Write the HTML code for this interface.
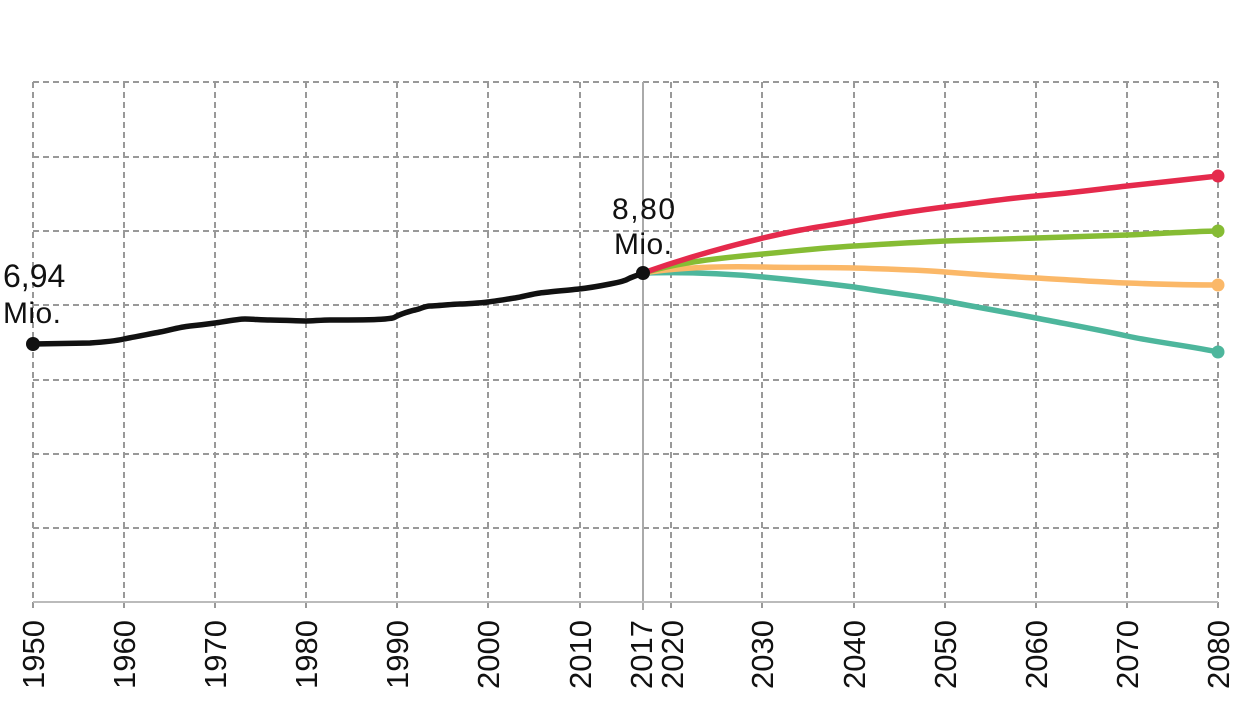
<!DOCTYPE html>
<html><head><meta charset="utf-8"><style>body{margin:0;background:#fff}svg{display:block}</style></head>
<body>
<svg width="1238" height="714" xmlns="http://www.w3.org/2000/svg" font-family="Liberation Sans, sans-serif">
<g stroke="#999" stroke-width="2" stroke-dasharray="6,4" fill="none">
<path d="M33 82H1218M33 157H1218M33 231H1218M33 305H1218M33 380H1218M33 454H1218M33 528H1218"/>
<path d="M33 82V610M124 82V610M215 82V610M306 82V610M397 82V610M488 82V610M580 82V610M671 82V610M762 82V610M854 82V610M945 82V610M1036 82V610M1127 82V610M1218 82V610"/>
</g>
<path d="M643 82V610" stroke="#aaa" stroke-width="2"/>
<path d="M33 602H1218" stroke="#bbb" stroke-width="2"/>
<g fill="none" stroke-width="5.5" stroke-linecap="round" stroke-linejoin="round">
<path stroke="#4db69c" d="M643 273C680 272 720 273 763 277S854 287 854 287C890 293 920 296 945 301S1000 311 1036 318S1100 330 1127 336S1190 346 1218 352"/>
<path stroke="#fbb868" d="M643 273C680 267 720 266 763 267S820 267 854 268S920 270 945 272S1000 276 1036 278S1100 282 1127 283S1200 285 1218 285"/>
<path stroke="#86bc34" d="M643 273C680 262 720 258 763 254S820 248 854 246S920 242 945 241S1000 239 1036 238S1100 236 1127 235S1200 231 1218 231"/>
<path stroke="#e52a4c" d="M643 273C680 260 720 248 763 238S820 227 854 221S920 210 945 207S1000 199 1036 196S1100 189 1127 186S1200 178 1218 176"/>
<path stroke="#111" d="M33 344L90 343C105 342 115 341 124 339S150 334 160 332S180 327 190 326S208 324 215 323S238 319 245 319S262 320 270 320S300 321 306 321S322 320 330 320S375 320 385 319S393 318 397 316S410 311 415 310S425 306 430 306S455 304 460 304S480 303 488 302S508 299 515 298S532 294 540 293S570 290 579 289S600 286 610 284S625 281 630 278L643 273"/>
</g>
<circle cx="33" cy="344" r="7" fill="#111"/>
<circle cx="643" cy="273" r="7" fill="#111"/>
<circle cx="1218" cy="176" r="6.5" fill="#e52a4c"/>
<circle cx="1218" cy="231" r="6.5" fill="#86bc34"/>
<circle cx="1218" cy="285" r="6.5" fill="#fbb868"/>
<circle cx="1218" cy="352" r="6.5" fill="#4db69c"/>
<g font-size="30" fill="#111">
<text x="3" y="287" font-size="32">6,94</text><text x="3" y="323" textLength="58">Mio.</text>
<text x="612" y="219" textLength="63">8,80</text><text x="614" y="254" textLength="58">Mio.</text>
</g>
<g font-size="31" fill="#111" text-anchor="end">
<text transform="translate(44,620) rotate(-90)">1950</text>
<text transform="translate(135,620) rotate(-90)">1960</text>
<text transform="translate(226,620) rotate(-90)">1970</text>
<text transform="translate(317,620) rotate(-90)">1980</text>
<text transform="translate(408,620) rotate(-90)">1990</text>
<text transform="translate(499,620) rotate(-90)">2000</text>
<text transform="translate(591,620) rotate(-90)">2010</text>
<text transform="translate(652,620) rotate(-90)">2017</text>
<text transform="translate(683,620) rotate(-90)">2020</text>
<text transform="translate(773,620) rotate(-90)">2030</text>
<text transform="translate(865,620) rotate(-90)">2040</text>
<text transform="translate(956,620) rotate(-90)">2050</text>
<text transform="translate(1047,620) rotate(-90)">2060</text>
<text transform="translate(1138,620) rotate(-90)">2070</text>
<text transform="translate(1229,620) rotate(-90)">2080</text>
</g>
</svg>
</body></html>
